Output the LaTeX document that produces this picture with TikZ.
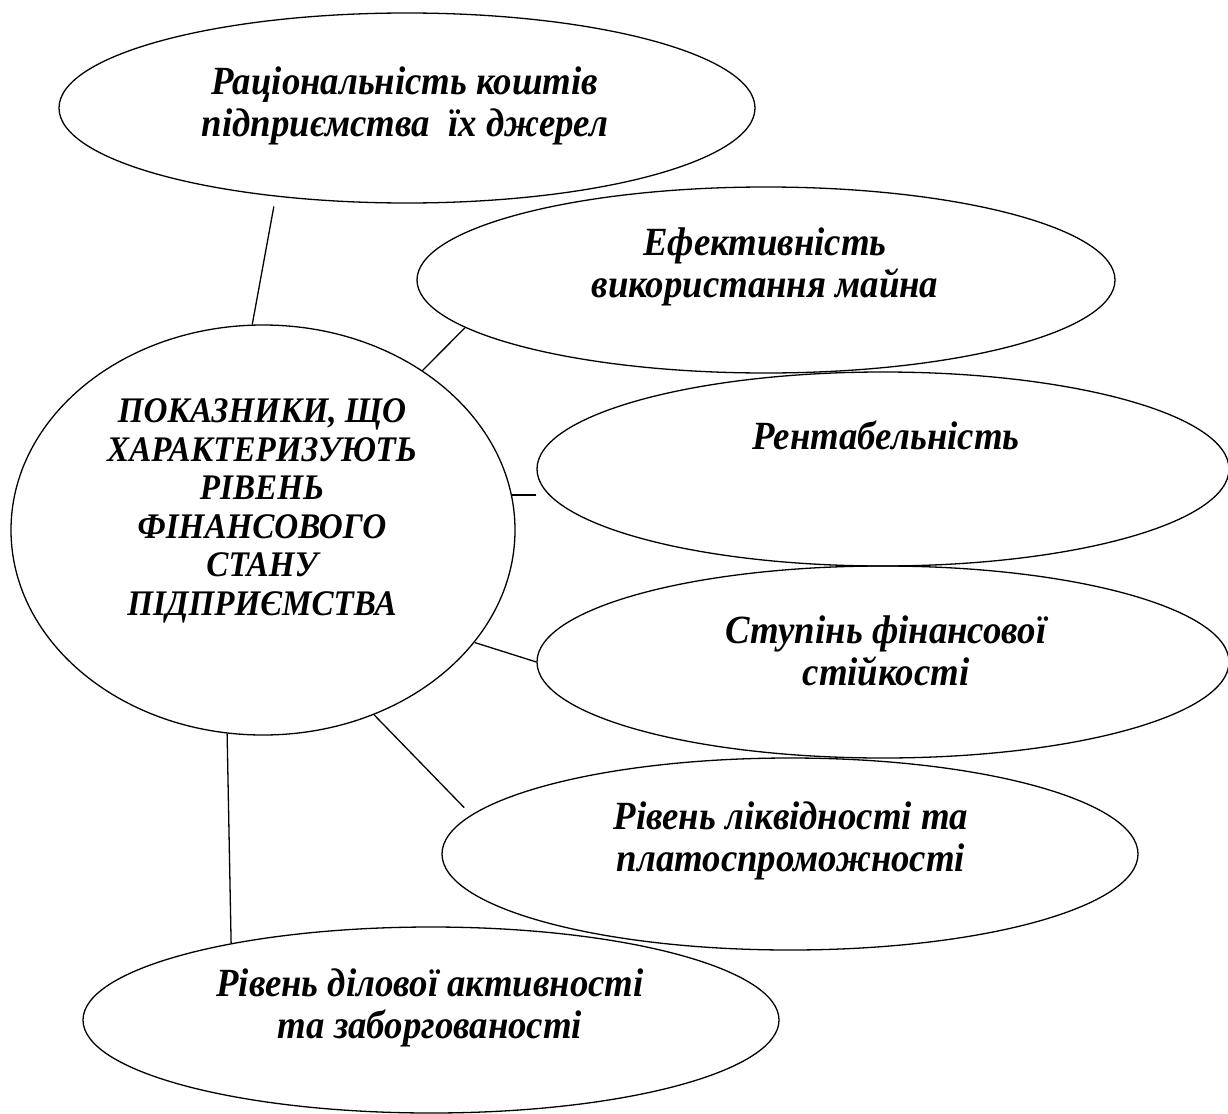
\documentclass[tikz,border=0pt]{standalone}
\usepackage{fontspec}
\setmainfont{Liberation Serif}
\newfontfamily\ovalfont[FakeStretch=0.92]{Liberation Serif}
\usetikzlibrary{shapes.geometric}
\begin{document}
\begin{tikzpicture}[x=1pt,y=-1pt,
  oval/.style={draw=black, line width=1.3pt, ellipse, inner sep=0pt},
  lbl/.style={align=center, inner sep=0pt, font=\ovalfont\fontsize{40}{42}\selectfont\bfseries\itshape},
  mainlbl/.style={align=center, inner sep=0pt, font=\ovalfont\fontsize{36}{38.5}\selectfont\bfseries\itshape},
  link/.style={draw=black, line width=1.3pt}]
\useasboundingbox (0,0) rectangle (1228,1113);
% ovals
\node[oval, minimum width=696pt, minimum height=190pt] (E1) at (407,108) {};
\node[oval, minimum width=698pt, minimum height=186pt] (E2) at (766,280) {};
\node[oval, minimum width=692pt, minimum height=194pt] (E3) at (883,469) {};
\node[oval, minimum width=692pt, minimum height=192pt] (E4) at (883,662) {};
\node[oval, minimum width=696pt, minimum height=192pt] (E5) at (790,854) {};
\node[oval, minimum width=696pt, minimum height=186pt] (E6) at (431,1020) {};
\node[oval, minimum width=504pt, minimum height=410pt] (C) at (263,530) {};
% labels
\node[lbl] (T1) at (405,106) {Раціональність коштів\\підприємства\ \ їх джерел};
\node[lbl] (T2) at (765,267) {Ефективність\\використання майна};
\node[lbl] (T3) at (886,435) {Рентабельність};
\node[lbl] (T4) at (886,651) {Ступінь фінансової\\стійкості};
\node[lbl] (T5) at (791,841) {Рівень ліквідності та\\платоспроможності};
\node[lbl] (T6) at (430,1008) {Рівень ділової активності\\та заборгованості};
\node[mainlbl] (TC) at (262,511) {ПОКАЗНИКИ, ЩО\\ХАРАКТЕРИЗУЮТЬ\\РІВЕНЬ\\ФІНАНСОВОГО\\СТАНУ\\ПІДПРИЄМСТВА};
% connectors
\draw[link, shorten >=10pt] (C.93.4) -- (E1.214);
\draw[link] (C.45) -- (E2.189);
\draw[link] (C.8.35) -- (C.8.35 -| E3.west);
\draw[link] (C.332) -- (E4.west);
\draw[link, shorten >=10pt] (C.301) -- (E5.173);
\draw[link] (C.260) -- (E6.159.8);
\end{tikzpicture}
\end{document}
